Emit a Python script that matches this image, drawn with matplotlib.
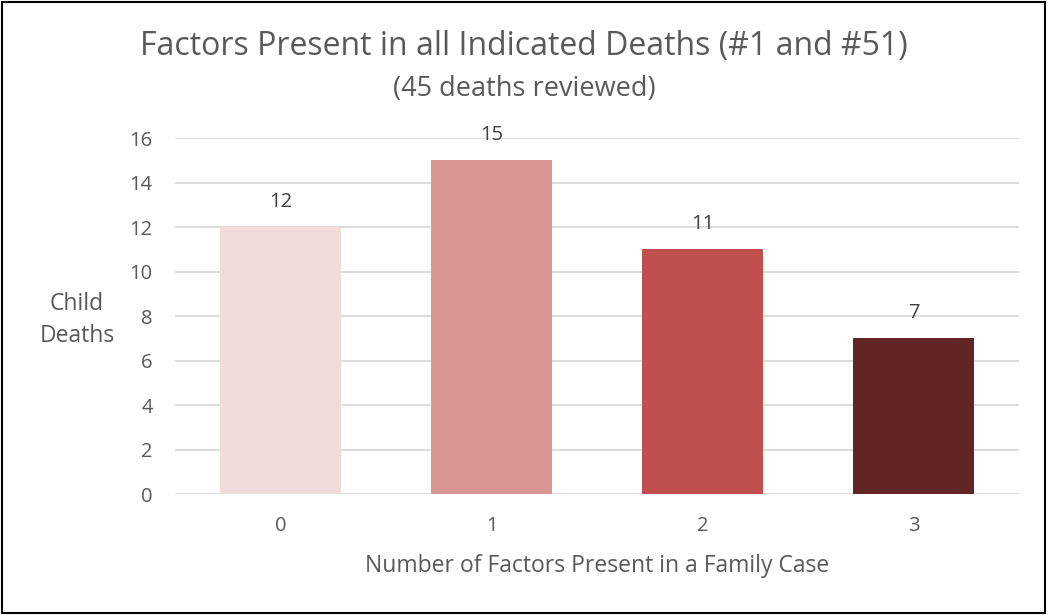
import matplotlib.pyplot as plt
from matplotlib.patches import Rectangle

plt.rcParams["font.family"] = ["Open Sans", "DejaVu Sans"]

factors = ["0", "1", "2", "3"]
deaths = [12, 15, 11, 7]
bar_colors = ["#F2DCDB", "#DA9694", "#C0504D", "#632523"]
y_ticks = [0, 2, 4, 6, 8, 10, 12, 14, 16]

text_color = "#595959"
grid_color = "#D9D9D9"

fig = plt.figure(figsize=(10.48, 6.15), dpi=100)
ax = fig.add_axes([0.167, 0.1967, 0.8053, 0.5789])

x = range(len(factors))
ax.bar(x, deaths, width=0.575, color=bar_colors, zorder=3)

for i, v in enumerate(deaths):
    ax.annotate(str(v), (i, v), xytext=(0, 11), textcoords="offset points",
                ha="center", va="bottom", fontsize=14.5, color="#404040")

ax.set_xlim(-0.5, len(factors) - 0.5)
ax.set_ylim(0, 16)
ax.set_yticks(y_ticks)
ax.set_xticks(list(x))
ax.set_xticklabels(factors)
ax.grid(axis="y", color=grid_color, linewidth=1.3, zorder=0)
for s in ax.spines.values():
    s.set_visible(False)
ax.tick_params(length=0, labelsize=14.5, colors=text_color)
ax.tick_params(axis="y", pad=16)
ax.tick_params(axis="x", pad=16)

ax.set_xlabel("Number of Factors Present in a Family Case", fontsize=16.5,
              color=text_color, labelpad=13)
ax.set_ylabel("Child\nDeaths", fontsize=16.5, color=text_color, rotation=0,
              ha="center", va="center", linespacing=1.45)
ax.yaxis.set_label_coords(-0.116, 0.49)

fig.text(0.5, 0.925, "Factors Present in all Indicated Deaths (#1 and #51)",
         ha="center", va="center", fontsize=23, color=text_color)
fig.text(0.5, 0.855, "(45 deaths reviewed)", ha="center", va="center",
         fontsize=19.5, color=text_color)

fig.patches.append(Rectangle((0.002, 0.003), 0.995, 0.993, transform=fig.transFigure,
                             fill=False, edgecolor="black", linewidth=1.5))

fig.savefig("out.png", dpi=100)
